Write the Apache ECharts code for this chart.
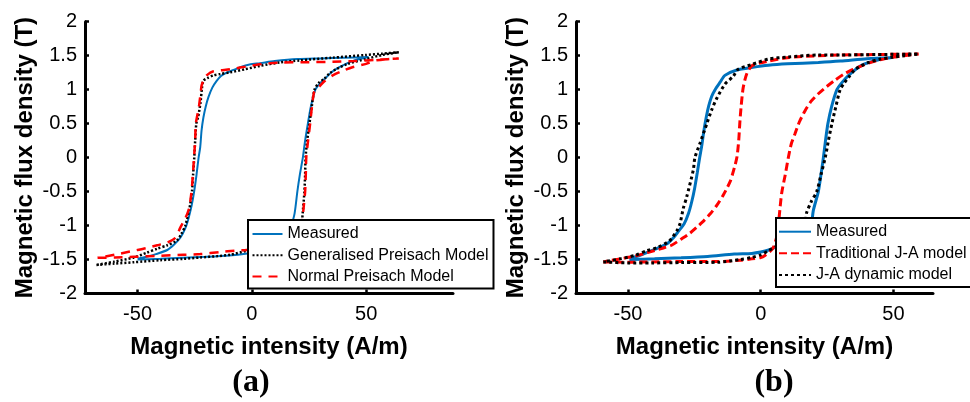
<!DOCTYPE html>
<html>
<head>
<meta charset="utf-8">
<script src="https://cdn.jsdelivr.net/npm/echarts@6/dist/echarts.min.js"></script>
<style>
  html, body { margin: 0; padding: 0; background: #fff; }
  #chart { width: 970px; height: 402px; }
</style>
</head>
<body>
<div id="chart"></div>
<script>
// ---------- Data (a) ----------
const aMeasuredH = [-50, -40, -30, -20, -10, -2, 5, 10, 13, 15.5, 17, 18.7, 19.9, 21, 22.3, 23.3, 24.5, 25.8, 27.8, 30, 32.5, 35, 38.3, 44, 51,
  40, 30, 20, 10, 3.6, -1, -5.1, -8, -11, -13.5, -15.4, -17.3, -19, -20.2, -21.2, -22, -22.6, -23.3, -24.2, -25.2, -26.3, -27.6, -29, -31.3, -34, -37, -42, -46, -50];
const aMeasuredB = [-1.50, -1.49, -1.475, -1.46, -1.44, -1.41, -1.37, -1.30, -1.24, -1.15, -1.03, -0.82, -0.5, -0.25, 0, 0.25, 0.5, 0.75, 1.0, 1.1, 1.18, 1.26, 1.33, 1.42, 1.48,
  1.47, 1.46, 1.45, 1.42, 1.39, 1.37, 1.33, 1.29, 1.25, 1.20, 1.13, 1.03, 0.89, 0.75, 0.59, 0.4, 0.15, 0, -0.25, -0.49, -0.7, -0.88, -1.03, -1.18, -1.28, -1.36, -1.42, -1.46, -1.49];

const aGenH = [-68, -60, -51.6, -40, -30, -22.6, -15, -9.5, -2.3, 3, 8, 13, 17, 20, 21.6, 22.4, 23, 23.3, 23.5, 24.2, 25.2, 26.2, 27.4, 29.3, 31.7, 34, 36.8, 42, 49.9, 57, 64.3,
  57, 49.9, 35, 20.9, 12.3, 3.5, -3, -9.5, -13.8, -16.8, -19.5, -21.2, -21.8, -22.5, -23.5, -24.3, -24.8, -25.2, -25.7, -26.2, -27.3, -29.1, -30.8, -32.8, -37, -41.4, -46, -51.6, -60, -68];
const aGenB = [-1.58, -1.56, -1.54, -1.51, -1.49, -1.47, -1.45, -1.43, -1.37, -1.32, -1.26, -1.19, -1.12, -1.05, -1.0, -0.75, -0.5, -0.25, 0, 0.25, 0.5, 0.75, 1.0, 1.1, 1.16, 1.24, 1.30, 1.38, 1.45, 1.51, 1.55,
  1.53, 1.51, 1.47, 1.43, 1.40, 1.35, 1.30, 1.255, 1.23, 1.21, 1.17, 1.13, 1.03, 0.8, 0.6, 0.5, 0.25, 0, -0.25, -0.5, -0.75, -1.0, -1.12, -1.22, -1.29, -1.34, -1.40, -1.47, -1.53, -1.58];

const aNormH = [-67.5, -60, -51.6, -40, -30, -22.6, -13.9, -7.4, -2.3, 3, 8, 13, 17, 20, 21.6, 22.6, 23.3, 23.6, 23.8, 24.6, 25.5, 26.3, 27.4, 29.6, 32, 35.4, 40, 44, 50, 54.2, 64.3,
  55, 45, 35.4, 25, 13.6, 5, -0.8, -9.5, -16.8, -19.8, -21, -22, -22.4, -23.2, -24.5, -24.8, -25.3, -25.8, -26.4, -27.5, -29.2, -31.3, -33.5, -37, -41.4, -46, -51.6, -60, -67.5];
const aNormB = [-1.475, -1.47, -1.46, -1.445, -1.43, -1.42, -1.39, -1.37, -1.36, -1.33, -1.28, -1.2, -1.12, -1.05, -1.0, -0.75, -0.5, -0.25, 0, 0.25, 0.5, 0.75, 0.98, 1.05, 1.13, 1.21, 1.28, 1.33, 1.38, 1.43, 1.46,
  1.44, 1.42, 1.41, 1.405, 1.40, 1.38, 1.35, 1.30, 1.27, 1.21, 1.15, 1.06, 0.95, 0.74, 0.5, 0.25, 0, -0.25, -0.5, -0.75, -0.9, -1.03, -1.18, -1.25, -1.29, -1.33, -1.37, -1.43, -1.475];

// ---------- Data (b) ----------
const bMeasuredH = [-49.5, -40, -30, -20, -10, -3.4, 0, 3, 6, 9, 12, 15, 17.5, 19, 19.8, 21.7, 22.7, 23.6, 24.4, 25.3, 26.7, 28.7, 30.5, 33.1, 38.1, 44.4, 50,
  40, 30, 21.7, 10, 2.9, -3, -9, -13.5, -15.3, -17.2, -18.5, -19.6, -20.5, -21.4, -22.2, -23.0, -23.9, -24.9, -26.0, -27.2, -28.8, -31.1, -32.9, -35, -37.5, -41.1, -45, -49.5];
const bMeasuredB = [-1.50, -1.49, -1.475, -1.455, -1.42, -1.41, -1.39, -1.36, -1.31, -1.26, -1.2, -1.14, -1.07, -1.0, -0.78, -0.5, -0.25, 0, 0.25, 0.5, 0.75, 1.0, 1.1, 1.21, 1.36, 1.44, 1.475,
  1.455, 1.42, 1.40, 1.38, 1.36, 1.33, 1.29, 1.21, 1.11, 1.0, 0.90, 0.76, 0.60, 0.40, 0.18, 0, -0.22, -0.45, -0.65, -0.82, -0.97, -1.09, -1.18, -1.26, -1.31, -1.37, -1.43, -1.49];

const bTradH = [-59.3, -50, -41, -30, -16, -7.8, -3.4, 0, 1.6, 3.5, 4.8, 5.8, 6.4, 7.0, 7.9, 9.2, 10.4, 11.5, 12.9, 14.5, 16.7, 19, 21.7, 25, 28, 31, 34.3, 40.6, 45, 49.4, 54, 59.5,
  50, 40, 30, 21.7, 10, 2.9, -0.5, -3.4, -5.3, -6.6, -7.4, -7.9, -8.3, -9.0, -10.3, -11.5, -14.1, -16.5, -19.1, -22, -26.6, -30, -33.6, -36.7, -42, -47.4, -53, -59.3];
const bTradB = [-1.535, -1.54, -1.535, -1.53, -1.53, -1.51, -1.49, -1.47, -1.44, -1.38, -1.32, -1.2, -1.10, -0.85, -0.52, -0.26, 0, 0.2, 0.35, 0.52, 0.69, 0.83, 0.94, 1.05, 1.14, 1.22, 1.29, 1.39, 1.44, 1.475, 1.50, 1.525,
  1.52, 1.515, 1.51, 1.50, 1.47, 1.42, 1.39, 1.35, 1.23, 1.03, 0.75, 0.5, 0.25, 0, -0.2, -0.35, -0.55, -0.7, -0.83, -0.95, -1.11, -1.2, -1.29, -1.33, -1.39, -1.45, -1.49, -1.535];

const bDynH = [-59.3, -50, -41.1, -30, -16, -7.8, -3.4, 0, 2.9, 6, 9, 12, 14.5, 16.7, 17.3, 19, 21.1, 22.7, 24.3, 25.5, 26.8, 28.3, 29.9, 31.5, 33.1, 35.6, 40.6, 45, 49.4, 54, 59.5,
  50, 40, 30, 21.7, 10, 2.9, -3.4, -8.5, -10.3, -13.5, -16.6, -18.5, -20.3, -22.9, -24.8, -25.4, -27.9, -29.2, -30.4, -31.5, -33, -34.5, -38.7, -42.9, -47.4, -53, -59.3];
const bDynB = [-1.535, -1.55, -1.55, -1.545, -1.54, -1.50, -1.47, -1.43, -1.37, -1.3, -1.22, -1.13, -1.05, -0.95, -0.81, -0.65, -0.5, -0.25, 0, 0.25, 0.5, 0.75, 1.0, 1.1, 1.18, 1.30, 1.40, 1.45, 1.475, 1.50, 1.525,
  1.52, 1.515, 1.51, 1.51, 1.48, 1.45, 1.37, 1.30, 1.20, 1.08, 0.87, 0.7, 0.50, 0.21, 0.0, -0.18, -0.58, -0.75, -0.97, -1.07, -1.16, -1.23, -1.32, -1.37, -1.44, -1.49, -1.535];

const xTicks = [-50, 0, 50];
const seriesNames = ['Measured', 'Generalised Preisach Model', 'Normal Preisach Model', 'Traditional J-A model', 'J-A dynamic model'];
const xTitle = 'Magnetic intensity (A/m)';
const yTitle = 'Magnetic flux density (T)';
const panelLabels = ['(a)', '(b)'];

function zip(xs, ys) { return xs.map((x, i) => [x, ys[i]]); }

const FONT = '"Liberation Sans", Arial, sans-serif';
const BLUE = '#0072BD', RED = '#FF0000', BLACK = '#000000';

function xAxisCfg(grid, min, max) {
  return {
    gridIndex: grid, type: 'value', min: min, max: max,
    name: xTitle, nameLocation: 'middle', nameGap: 42,
    nameTextStyle: { fontFamily: FONT, fontSize: 24, fontWeight: 'bold', color: '#000' },
    axisLine: { show: true, onZero: false, lineStyle: { color: '#000', width: 3 } },
    axisTick: { show: true, inside: true, length: 4, customValues: xTicks, lineStyle: { color: '#000', width: 2.5 } },
    axisLabel: { show: true, customValues: xTicks, margin: 11, fontFamily: FONT, fontSize: 20, color: '#000' },
    splitLine: { show: false }
  };
}
function yAxisCfg(grid) {
  return {
    gridIndex: grid, type: 'value', min: -2, max: 2, interval: 0.5,
    name: yTitle, nameLocation: 'middle', nameGap: 48,
    nameTextStyle: { fontFamily: FONT, fontSize: 24, fontWeight: 'bold', color: '#000' },
    axisLine: { show: true, onZero: false, lineStyle: { color: '#000', width: 3 } },
    axisTick: { show: true, inside: true, length: 4, lineStyle: { color: '#000', width: 2.5 } },
    axisLabel: { show: true, margin: 8, fontFamily: FONT, fontSize: 20, color: '#000' },
    splitLine: { show: false }
  };
}
function lineSeries(name, xi, data, color, width, type) {
  return {
    name: name, type: 'line', xAxisIndex: xi, yAxisIndex: xi, data: data,
    symbol: 'none', showSymbol: false, smooth: 0.25, clip: true,
    lineStyle: { color: color, width: width, type: type, cap: 'butt' },
    itemStyle: { color: color },
    emphasis: { disabled: true }
  };
}
function legendCfg(left, top, names, itemWidth, gap, padding) {
  return {
    show: true, orient: 'vertical', left: left, top: top, data: names,
    itemWidth: itemWidth, itemHeight: 14, itemGap: gap, padding: padding,
    backgroundColor: '#fff', borderColor: '#000', borderWidth: 2, borderRadius: 0,
    itemStyle: { opacity: 0 },
    textStyle: { fontFamily: FONT, fontSize: 16, color: '#000', lineHeight: 16 },
    selectedMode: false
  };
}

const chart = echarts.init(document.getElementById('chart'), null, { renderer: 'canvas' });
chart.setOption({
  animation: false,
  backgroundColor: '#fff',
  grid: [
    { left: 85, top: 21.7, width: 368, height: 271.8 },
    { left: 576, top: 21.7, width: 357, height: 271.8 }
  ],
  xAxis: [xAxisCfg(0, -73, 88), xAxisCfg(1, -69.6, 64.9)],
  yAxis: [yAxisCfg(0), yAxisCfg(1)],
  legend: [
    legendCfg(248, 220, [seriesNames[0], seriesNames[1], seriesNames[2]], 30, 5.3, [6, 5, 4, 3.5]),
    legendCfg(776, 218, [seriesNames[0], seriesNames[3], seriesNames[4]], 32, 5.6, [5.7, 40, 4, 2])
  ],
  series: [
    lineSeries(seriesNames[0], 0, zip(aMeasuredH, aMeasuredB), BLUE, 2, 'solid'),
    lineSeries(seriesNames[1], 0, zip(aGenH, aGenB), BLACK, 2.5, [2, 2]),
    lineSeries(seriesNames[2], 0, zip(aNormH, aNormB), RED, 2.5, [9, 7]),
    lineSeries(seriesNames[0], 1, zip(bMeasuredH, bMeasuredB), BLUE, 3, 'solid'),
    lineSeries(seriesNames[3], 1, zip(bTradH, bTradB), RED, 3, [8, 4]),
    lineSeries(seriesNames[4], 1, zip(bDynH, bDynB), BLACK, 3, [3, 3])
  ],
  graphic: [
    { type: 'text', x: 251, y: 383, style: { text: panelLabels[0], font: 'bold 32px "Liberation Serif", "Times New Roman", serif', fill: '#000', textAlign: 'center', textVerticalAlign: 'middle' } },
    { type: 'text', x: 774, y: 383, style: { text: panelLabels[1], font: 'bold 32px "Liberation Serif", "Times New Roman", serif', fill: '#000', textAlign: 'center', textVerticalAlign: 'middle' } }
  ]
});
</script>
</body>
</html>
